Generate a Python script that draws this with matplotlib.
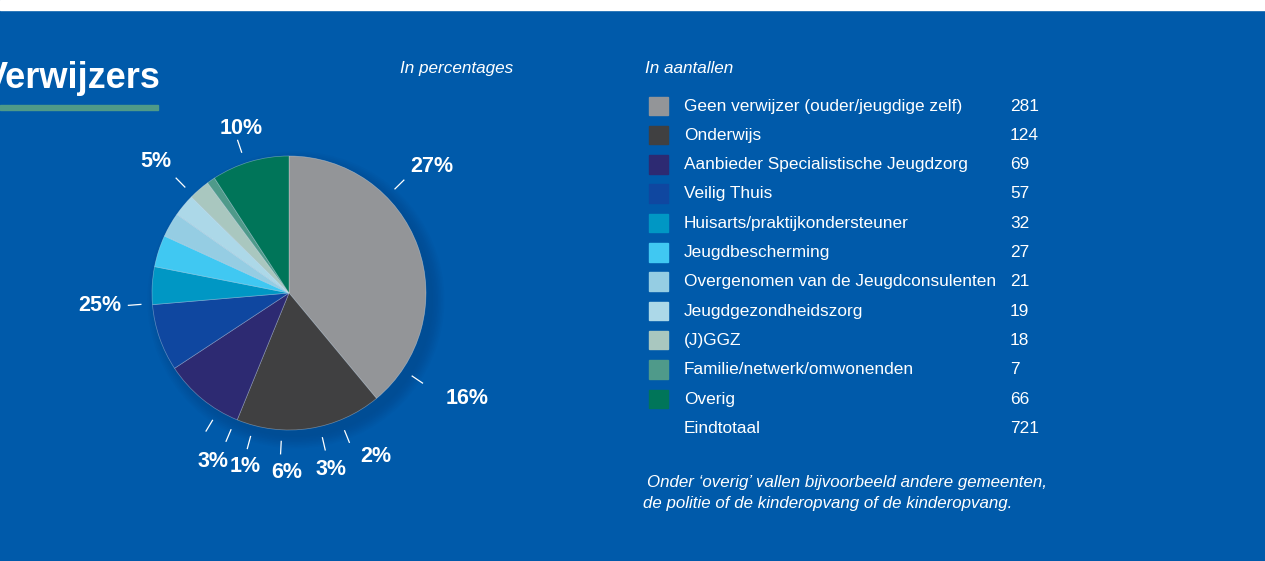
import numpy as np
import matplotlib.pyplot as plt
from matplotlib.patches import Rectangle, Circle

# data
categories = ['Geen verwijzer (ouder/jeugdige zelf)', 'Onderwijs',
              'Aanbieder Specialistische Jeugdzorg', 'Veilig Thuis',
              'Huisarts/praktijkondersteuner', 'Jeugdbescherming',
              'Overgenomen van de Jeugdconsulenten', 'Jeugdgezondheidszorg',
              '(J)GGZ', 'Familie/netwerk/omwonenden', 'Overig']
counts = [281, 124, 69, 57, 32, 27, 21, 19, 18, 7, 66]
total_label = 'Eindtotaal'
total = 721
colors = ['#939598', '#404041', '#2d2a72', '#0f47a0', '#0097c4', '#40c8f2',
          '#95cde3', '#acd8e8', '#a9c7bf', '#4f9a8a', '#007559']
pct_labels = ['27%', '10%', '5%', '25%', '16%', '2%', '3%', '6%', '1%', '3%']

# layout (pie radius units, relative to centre)
pct_xy = [(1.04, 0.92), (-0.35, 1.20), (-0.97, 0.96), (-1.38, -0.09),
          (1.30, -0.77), (0.635, -1.19), (0.31, -1.29), (-0.02, -1.31),
          (-0.32, -1.27), (-0.555, -1.23)]
tick_angles = [44.5, 108.6, 134.5, 184.4, -34, -68, -77, -93, -105, -113, -121]

BG = '#005aaa'
W, H = 1265, 561
plt.rcParams['font.family'] = ['Liberation Sans', 'DejaVu Sans']

fig = plt.figure(figsize=(W / 100, H / 100), dpi=100)
fig.patch.set_facecolor(BG)

# overlay axes in pixel coordinates
bg = fig.add_axes([0, 0, 1, 1])
bg.set_xlim(0, W)
bg.set_ylim(H, 0)
bg.axis('off')
bg.add_patch(Rectangle((0, 0), W, 9.5, color='white', zorder=0))

# title is cut off at the left edge, as in the original page crop
bg.text(-16, 88, 'Verwijzers', color='white', fontsize=26, fontweight='bold',
        ha='left', va='baseline')
bg.add_patch(Rectangle((0, 105), 158, 4.5, color='#4f9a88'))
bg.text(400, 73, 'In percentages', color='white', fontsize=12.3, style='italic',
        ha='left', va='baseline')
bg.text(645, 73, 'In aantallen', color='white', fontsize=12.3, style='italic',
        ha='left', va='baseline')

row0, step = 106, 29.3
fs = 12.4
for i, (cat, n, c) in enumerate(zip(categories, counts, colors)):
    y = row0 + i * step
    bg.add_patch(Rectangle((649, y - 9.5), 18.5, 18.5, color=c))
    bg.text(684, y, cat, color='white', fontsize=fs, va='center', ha='left')
    bg.text(1010, y, str(n), color='white', fontsize=fs, va='center', ha='left')
y = row0 + len(categories) * step
bg.text(684, y, total_label, color='white', fontsize=fs, va='center', ha='left')
bg.text(1010, y, str(total), color='white', fontsize=fs, va='center', ha='left')

bg.text(647, 482, "Onder \u2018overig\u2019 vallen bijvoorbeeld andere gemeenten,",
        color='white', fontsize=12.2, style='italic', va='center', ha='left')
bg.text(643, 503, 'de politie of de kinderopvang of de kinderopvang.',
        color='white', fontsize=12.2, style='italic', va='center', ha='left')

# pie axes: centre (289, 293) px, radius 137 px
cx, cy, r, half = 289, 293, 137, 240
ax = fig.add_axes([(cx - half) / W, (H - cy - half) / H, 2 * half / W, 2 * half / H])
ax.axis('off')

# soft shadow
for k in range(8):
    ax.add_patch(Circle((0.05, -0.05), 1.0 + k * 0.012, color='#0b3f7a',
                        alpha=0.06, lw=0, zorder=0))

ax.pie(counts, colors=colors, startangle=90, counterclock=False, radius=1,
       wedgeprops=dict(linewidth=0.5, edgecolor=(1, 1, 1, 0.35)))

for a in tick_angles:
    t = np.deg2rad(a)
    ax.plot([1.08 * np.cos(t), 1.18 * np.cos(t)], [1.08 * np.sin(t), 1.18 * np.sin(t)],
            color='white', lw=0.9, solid_capstyle='butt')
for lab, (x, y) in zip(pct_labels, pct_xy):
    ax.text(x, y, lab, color='white', fontsize=15.5, fontweight='bold',
            ha='center', va='center')

lim = half / r
ax.set_xlim(-lim, lim)
ax.set_ylim(-lim, lim)
ax.set_aspect('equal')

fig.savefig('out.png', dpi=100, facecolor=BG)
